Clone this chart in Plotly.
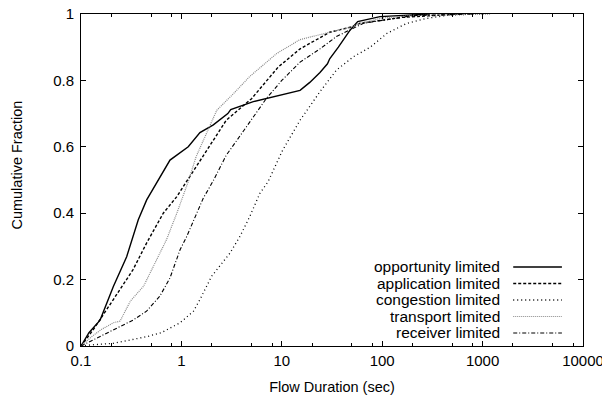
import plotly.graph_objects as go

# ---- data ----
series_names = ["opportunity limited", "application limited", "congestion limited",
                "transport limited", "receiver limited"]

opp_x = [0.1, 0.12, 0.155, 0.21, 0.285, 0.372, 0.451, 0.589, 0.77, 1.17, 1.53, 2.08, 2.9, 3.1,
         5.2, 15.2, 19, 24, 28.5, 30, 36.6, 48, 57, 95, 240, 300]
opp_y = [0, 0.04, 0.078, 0.179, 0.269, 0.38, 0.44, 0.50, 0.56, 0.60, 0.643, 0.666, 0.70, 0.712,
         0.736, 0.77, 0.794, 0.824, 0.85, 0.865, 0.90, 0.952, 0.977, 0.992, 0.997, 1.0]

app_x = [0.1, 0.133, 0.21, 0.33, 0.45, 0.66, 0.9, 1.15, 1.53, 2.8, 5.0, 9.2, 15.2, 24, 30,
         51, 60, 160, 470, 600]
app_y = [0, 0.05, 0.14, 0.23, 0.31, 0.40, 0.45, 0.50, 0.56, 0.68, 0.745, 0.84, 0.895, 0.927,
         0.945, 0.962, 0.972, 0.99, 0.997, 1.0]

con_x = [0.1, 0.123, 0.21, 0.45, 0.63, 0.97, 1.32, 1.53, 2.0, 3.05, 3.83, 4.8, 6.05, 7.3,
         10.2, 15.2, 24, 35, 51.5, 76, 112, 176, 280, 470, 1000]
con_y = [0, 0.003, 0.008, 0.028, 0.04, 0.07, 0.105, 0.14, 0.21, 0.28, 0.33, 0.39, 0.46, 0.495,
         0.59, 0.68, 0.766, 0.831, 0.871, 0.90, 0.942, 0.972, 0.987, 0.997, 1.0]

tra_x = [0.1, 0.13, 0.16, 0.21, 0.245, 0.31, 0.42, 0.57, 0.71, 0.9, 1.17, 1.4, 1.79, 2.25,
         3.3, 4.8, 8.9, 15.2, 30, 50, 60, 100, 200, 1200]
tra_y = [0, 0.03, 0.05, 0.07, 0.075, 0.135, 0.18, 0.26, 0.32, 0.40, 0.495, 0.57, 0.64, 0.71,
         0.76, 0.812, 0.881, 0.923, 0.945, 0.962, 0.972, 0.988, 0.995, 1.0]

rec_x = [0.1, 0.155, 0.21, 0.33, 0.45, 0.61, 0.77, 0.97, 1.13, 1.35, 1.65, 2.08, 2.8, 3.3,
         4.8, 7.0, 10.0, 15.2, 24, 35, 51.5, 65, 200, 800]
rec_y = [0, 0.028, 0.048, 0.078, 0.105, 0.15, 0.205, 0.29, 0.33, 0.385, 0.445, 0.498, 0.575,
         0.605, 0.675, 0.745, 0.80, 0.855, 0.895, 0.932, 0.957, 0.972, 0.995, 1.0]

x_tickvals = [0.1, 1, 10, 100, 1000, 10000]
x_ticktext = ["0.1", "1", "10", "100", "1000", "10000"]
y_tickvals = [0, 0.2, 0.4, 0.6, 0.8, 1]
y_ticktext = ["0", "0.2", "0.4", "0.6", "0.8", "1"]
x_minor = [m * d for d in [0.1, 1, 10, 100, 1000] for m in (2, 5, 8)]

# ---- styles ----
styles = [
    dict(color="black", width=1.4, dash="solid"),
    dict(color="black", width=1.4, dash="3px,2px"),
    dict(color="black", width=1.3, dash="1px,3px"),
    dict(color="#8a8a8a", width=1.2, dash="1px,1px"),
    dict(color="black", width=1.1, dash="4px,2px,1px,2px"),
]

data = [(opp_x, opp_y), (app_x, app_y), (con_x, con_y), (tra_x, tra_y), (rec_x, rec_y)]

FONT = "Liberation Sans, Arial, Helvetica, sans-serif"
fig = go.Figure()
for (xs, ys), name, st in zip(data, series_names, styles):
    fig.add_trace(go.Scatter(x=xs, y=ys, mode="lines", name=name, line=st,
                             showlegend=False))

# gnuplot-style legend (text right-aligned, sample on the right)
shapes = []
annotations = []
for i, (name, st) in enumerate(zip(series_names, styles)):
    yy = 0.238 - i * 0.0497
    annotations.append(dict(x=0.839, y=yy, xref="paper", yref="paper", text=name,
                            showarrow=False, xanchor="right", yanchor="middle",
                            font=dict(family=FONT, size=15.5, color="black")))
    shapes.append(dict(type="line", xref="paper", yref="paper", x0=0.861, x1=0.958,
                       y0=yy, y1=yy, line=st))

annotations.append(dict(x=-0.1265, y=0.545, xref="paper", yref="paper",
                        text="Cumulative Fraction", textangle=-90, showarrow=False,
                        xanchor="center", yanchor="middle",
                        font=dict(family=FONT, size=14.5, color="black")))

# page body has an 8px margin, so the figure is sized to fit the 610x396 window
fig.update_layout(
    width=602, height=388,
    margin=dict(l=73, r=27, t=6, b=50, autoexpand=False),
    paper_bgcolor="white", plot_bgcolor="white",
    font=dict(family=FONT, size=15, color="black"),
    shapes=shapes, annotations=annotations,
    showlegend=False,
)
fig.update_xaxes(
    type="log", range=[-1, 4], tickvals=x_tickvals, ticktext=x_ticktext,
    ticks="inside", ticklen=5, tickcolor="black", showline=True, linecolor="black",
    linewidth=1, mirror="ticks", showgrid=False, zeroline=False, automargin=False,
    ticklabeloverflow="allow", ticklabelstandoff=1,
    minor=dict(tickvals=x_minor, ticks="inside", ticklen=3, tickcolor="black", showgrid=False),
    title=dict(text="Flow Duration (sec)", font=dict(family=FONT, size=14.5), standoff=13),
    tickfont=dict(family=FONT, size=15),
)
fig.update_yaxes(
    range=[0, 1], tickvals=y_tickvals, ticktext=y_ticktext,
    ticks="inside", ticklen=5, tickcolor="black", showline=True, linecolor="black",
    linewidth=1, mirror="ticks", showgrid=False, zeroline=False, automargin=False,
    ticklabeloverflow="allow", ticklabelstandoff=3,
    tickfont=dict(family=FONT, size=15),
)

fig.write_html("out.html")
